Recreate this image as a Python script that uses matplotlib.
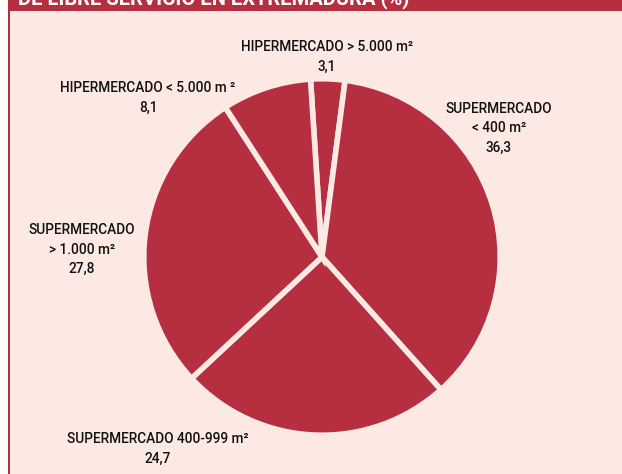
import matplotlib.pyplot as plt
from matplotlib.patches import Rectangle

# Data (clockwise from the top)
categories = [
    "HIPERMERCADO > 5.000 m²",
    "SUPERMERCADO\n< 400 m²",
    "SUPERMERCADO 400-999 m²",
    "SUPERMERCADO\n> 1.000 m²",
    "HIPERMERCADO < 5.000 m ²",
]
shares = [3.1, 36.3, 24.7, 27.8, 8.1]
title = "DE LIBRE SERVICIO EN EXTREMADURA (%)"

RED = "#b52f40"
PANEL = "#fce9e3"
FONT = ["Liberation Sans Narrow", "Roboto", "DejaVu Sans"]

W, H = 622, 474
fig = plt.figure(figsize=(W / 100, H / 100), dpi=100)
fig.patch.set_facecolor("white")


def fx(px):
    return px / W


def fy(py):
    return 1 - py / H


# Panel, left rule and title band
fig.add_artist(Rectangle((fx(8), 0), 1 - fx(8), 1, transform=fig.transFigure,
                         facecolor=PANEL, edgecolor="none", zorder=0))
fig.add_artist(Rectangle((fx(8), 0), fx(2.5), 1, transform=fig.transFigure,
                         facecolor=RED, edgecolor="none", zorder=1))
fig.add_artist(Rectangle((fx(8), fy(10.5)), 1 - fx(8), 10.5 / H,
                         transform=fig.transFigure, facecolor=RED,
                         edgecolor="none", zorder=1))
fig.text(fx(18), fy(4), title, color="white", fontsize=14.5, fontweight="bold",
         family=FONT, fontstretch="condensed", ha="left", va="baseline",
         zorder=2)

# Pie
cx, cy, r = 322, 257, 180
ax = fig.add_axes([fx(cx - r), fy(cy + r), 2 * r / W, 2 * r / H])
ax.pie(shares, startangle=93.7, counterclock=False, colors=[RED] * len(shares),
       wedgeprops=dict(edgecolor=PANEL, linewidth=4))
ax.set_xlim(-1.01, 1.01)
ax.set_ylim(-1.01, 1.01)
ax.set_aspect("equal")
ax.axis("off")

# Labels
label_pos = [(327, 40), (499, 102), (158, 432), (82, 223), (148, 81)]
for cat, val, (lx, ly) in zip(categories, shares, label_pos):
    txt = cat + "\n" + f"{val:.1f}".replace(".", ",")
    fig.text(fx(lx), fy(ly), txt, ha="center", va="top", fontsize=9.8,
             family=FONT, fontweight="medium", fontstretch="condensed",
             linespacing=1.5, color="#111111", transform=fig.transFigure)

fig.savefig("out.png", dpi=100)
